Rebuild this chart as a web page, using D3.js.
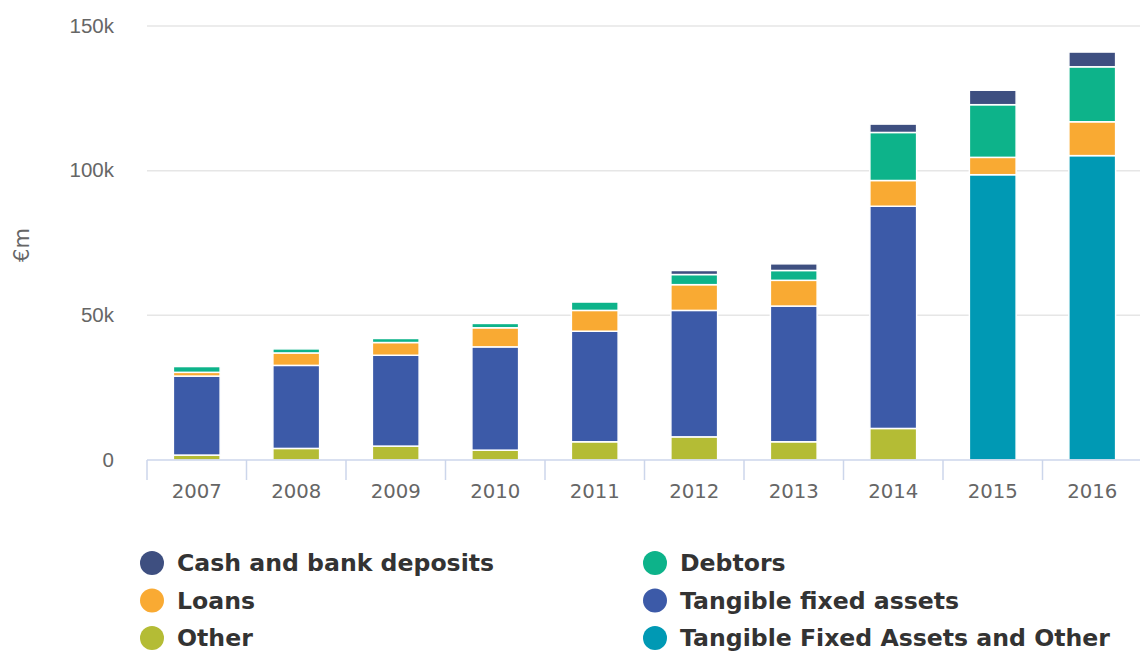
<!DOCTYPE html>
<html lang="en">
<head>
<meta charset="utf-8">
<title>Assets, stacked columns</title>
<script src="https://d3js.org/d3.v7.min.js"></script>
<style>
  body { margin: 0; background: #fff; }
  svg { display: block; }
</style>
</head>
<body>
<script>

// values in €m
var years    = ["2007", "2008", "2009", "2010", "2011", "2012", "2013", "2014", "2015", "2016"];
var other    = [1700, 4000, 4800, 3400, 6300, 8000, 6300, 10900, 0, 0];
var tangible = [27300, 28700, 31400, 35700, 38200, 43700, 46900, 76800, 0, 0];
var tfao     = [0, 0, 0, 0, 0, 0, 0, 0, 98600, 105200];
var loans    = [1300, 4300, 4400, 6600, 7200, 8900, 8900, 8900, 6000, 11700];
var debtors  = [2000, 1400, 1400, 1500, 2900, 3500, 3400, 16600, 18200, 19000];
var cash     = [0, 0, 0, 0, 0, 1400, 2300, 2900, 5000, 5100];
var yTicks   = [0, 50000, 100000, 150000];

// stacking order, bottom first
var series = [
  { key: "other",    name: "Other",                           values: other,    color: "#b4bc35" },
  { key: "tangible", name: "Tangible fixed assets",           values: tangible, color: "#3c5aa8" },
  { key: "tfao",     name: "Tangible Fixed Assets and Other", values: tfao,     color: "#0099b4" },
  { key: "loans",    name: "Loans",                           values: loans,    color: "#f9aa33" },
  { key: "debtors",  name: "Debtors",                         values: debtors,  color: "#0db38a" },
  { key: "cash",     name: "Cash and bank deposits",          values: cash,     color: "#3e4f80" }
];

var width = 1140, height = 652;
var margin = { top: 26, right: -2, bottom: 192, left: 147 };
var innerW = width - margin.left - margin.right;
var innerH = height - margin.top - margin.bottom;

var rows = years.map(function(y, i) {
  var r = { year: y };
  series.forEach(function(s) { r[s.key] = s.values[i]; });
  return r;
});

var stacked = d3.stack().keys(series.map(function(s) { return s.key; }))(rows);

var x = d3.scaleBand().domain(years).range([0, innerW]).paddingInner(0.53).paddingOuter(0.265);
var xTicks = d3.scaleBand().domain(years).range([0, innerW]);
var y = d3.scaleLinear().domain([0, 150000]).range([innerH, 0]);

var svg = d3.select("body").append("svg")
  .attr("width", width)
  .attr("height", height)
  .style("font-family", "'DejaVu Sans', sans-serif");

var g = svg.append("g").attr("transform", "translate(" + margin.left + "," + margin.top + ")");

// gridlines
g.selectAll(".grid")
  .data(yTicks.filter(function(d) { return d > 0; }))
  .enter().append("line")
  .attr("x1", 0).attr("x2", innerW)
  .attr("y1", function(d) { return y(d); })
  .attr("y2", function(d) { return y(d); })
  .attr("stroke", "#e6e6e6")
  .attr("stroke-width", 1.5);

// y tick labels
var yAxis = g.append("g")
  .call(d3.axisLeft(y).tickValues(yTicks).tickSize(0).tickPadding(33)
    .tickFormat(function(d) { return d === 0 ? "0" : (d / 1000) + "k"; }));
yAxis.select(".domain").remove();
yAxis.selectAll("text").attr("fill", "#666").style("font-size", "20.5px").attr("dy", "0.3em");

// y title
svg.append("text")
  .attr("transform", "translate(29,245) rotate(-90)")
  .attr("text-anchor", "middle")
  .attr("fill", "#666")
  .style("font-size", "21px")
  .text("€m");

// bars
g.selectAll(".layer")
  .data(stacked)
  .enter().append("g")
  .attr("fill", function(d, i) { return series[i].color; })
  .selectAll("rect")
  .data(function(d) { return d.filter(function(p) { return p[1] - p[0] > 0; }); })
  .enter().append("rect")
  .attr("x", function(d) { return x(d.data.year); })
  .attr("width", x.bandwidth())
  .attr("y", function(d) { return y(d[1]); })
  .attr("height", function(d) { return y(d[0]) - y(d[1]); })
  .attr("stroke", "#fff")
  .attr("stroke-width", 1.5);

// x axis
var xAxisG = g.append("g").attr("transform", "translate(0," + innerH + ")");
xAxisG.append("line")
  .attr("x1", 0).attr("x2", innerW)
  .attr("stroke", "#ccd6eb").attr("stroke-width", 1.5);
xAxisG.selectAll(".tick")
  .data(years)
  .enter().append("line")
  .attr("x1", function(d) { return xTicks(d); })
  .attr("x2", function(d) { return xTicks(d); })
  .attr("y1", 0).attr("y2", 20)
  .attr("stroke", "#ccd6eb").attr("stroke-width", 1.5);
xAxisG.selectAll(".lbl")
  .data(years)
  .enter().append("text")
  .attr("x", function(d) { return x(d) + x.bandwidth() / 2; })
  .attr("y", 37.5)
  .attr("text-anchor", "middle")
  .attr("fill", "#666")
  .style("font-size", "19.7px")
  .text(function(d) { return d; });

// legend, two columns
var legendOrder = ["cash", "debtors", "loans", "tangible", "other", "tfao"];
var legend = svg.append("g");
legendOrder.forEach(function(k, i) {
  var s = series.find(function(d) { return d.key === k; });
  var col = i % 2, row = Math.floor(i / 2);
  var lx = col === 0 ? 152 : 655;
  var ly = 563 + row * 37.5;
  legend.append("circle")
    .attr("cx", lx).attr("cy", ly).attr("r", 12)
    .attr("fill", s.color);
  legend.append("text")
    .attr("x", lx + 25).attr("y", ly)
    .attr("dy", "0.36em")
    .attr("fill", "#333")
    .style("font-size", "23.6px")
    .style("font-weight", "bold")
    .text(s.name);
});

</script>
</body>
</html>
